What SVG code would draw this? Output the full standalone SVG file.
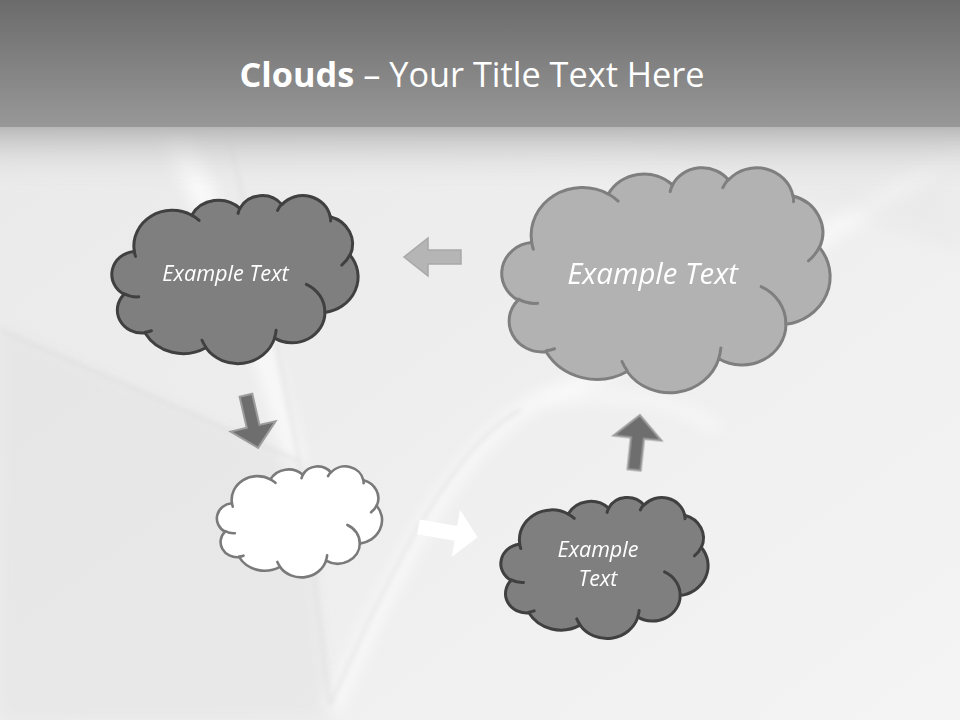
<svg xmlns="http://www.w3.org/2000/svg" xmlns:xlink="http://www.w3.org/1999/xlink" width="960" height="720" viewBox="0 0 960 720">
  <style>
    .lbl { font-family: "Open Sans", "Noto Sans", "DejaVu Sans", sans-serif; font-style: italic; fill: #ffffff; text-anchor: middle; }
    .title { font-family: "Open Sans", "Noto Sans", "DejaVu Sans", sans-serif; fill: #ffffff; text-anchor: middle; font-size: 34.3px; }
    .dark { fill: #7f7f7f; stroke: #404040; stroke-width: 3; }
    .mid { fill: #b2b2b2; stroke: #7f7f7f; stroke-width: 3; }
    .white { fill: #ffffff; stroke: #7a7a7a; stroke-width: 2.6; }
    .cl { vector-effect: non-scaling-stroke; stroke-linejoin: round; stroke-linecap: round; }
    .arrDark { fill: #6e6e6e; stroke: #9c9c9c; stroke-width: 2; }
    .arrLight { fill: #b5b5b5; stroke: #a8a8a8; stroke-width: 1.5; }
    .arrWhite { fill: #ffffff; stroke: none; }
  </style>
  <defs>
    <linearGradient id="hdr" x1="0" y1="0" x2="0" y2="1">
      <stop offset="0" stop-color="#6b6b6b"/>
      <stop offset="1" stop-color="#989898"/>
    </linearGradient>
    <linearGradient id="shade" x1="0" y1="0" x2="0" y2="1">
      <stop offset="0" stop-color="#b8b8b8"/>
      <stop offset="1" stop-color="#ebebeb" stop-opacity="0"/>
    </linearGradient>
    <linearGradient id="bg" x1="0" y1="0" x2="1" y2="1">
      <stop offset="0" stop-color="#e9e9e9"/>
      <stop offset="0.5" stop-color="#eeeeee"/>
      <stop offset="1" stop-color="#f4f4f4"/>
    </linearGradient>
    <filter id="blur" x="-20%" y="-20%" width="140%" height="140%">
      <feGaussianBlur stdDeviation="8"/>
    </filter>
    <filter id="blur2" x="-20%" y="-20%" width="140%" height="140%">
      <feGaussianBlur stdDeviation="2.5"/>
    </filter>
    <g id="cloud">
      <path class="cl" d="M 39 143.7 A 67.53 91.9 0 0 1 140.05 52.02 A 53.33 72.67 0 0 1 224.56 34.32 A 43.65 59.45 0 0 1 298.33 24.8 A 48.57 65.95 0 0 1 383.18 55.76 A 53.33 72.73 0 0 1 418.18 154.59 A 67.75 92.2 0 0 1 374.03 302.01 A 57.85 78.67 0 0 1 285.56 368.12 A 67.52 92.15 0 0 1 164.81 392.67 A 77.2 105.43 0 0 1 58.04 354.72 A 43.6 59.18 0 0 1 21.12 255.5 A 43.45 59.45 0 0 1 38.63 145.07 Z"/>
      <path class="cl" fill="none" d="M 46.93 261.77 A 43.45 59.45 0 0 1 21.59 253.79 M 69.28 348.99 A 43.6 59.18 0 0 1 58.2 352.8 M 164.78 390.9 A 67.52 92.15 0 0 1 158.09 373.46 M 288.27 347.51 A 67.52 92.15 0 0 1 285.61 366.59 M 341.29 229.54 A 57.85 78.67 0 0 1 373.81 300.9 M 417.98 153.54 A 53.33 72.73 0 0 1 403.5 180.3 M 383.24 54.26 A 48.57 65.95 0 0 1 384 66.9 M 290.78 39.52 A 48.57 65.95 0 0 1 298.2 23.4 M 221.41 47.2 A 43.65 59.45 0 0 1 225.05 33.18 M 140 51.92 A 67.53 91.9 0 0 1 153 65.4 M 41.27 157.89 A 67.53 91.9 0 0 1 39 143.71"/>
    </g>
  </defs>

  <!-- background -->
  <rect x="0" y="0" width="960" height="720" fill="url(#bg)"/>
  <g filter="url(#blur)">
    <polygon points="0,330 300,462 332,720 0,720" fill="#dddddd" opacity="0.35"/>
    <polygon points="160,128 190,128 268,330 305,465 290,470 245,330" fill="#ffffff" opacity="0.7"/>
    <path d="M 332 710 C 400 560 460 440 540 400 C 660 350 800 250 960 150" fill="none" stroke="#ffffff" stroke-width="16" opacity="0.6"/>
    <path d="M 540 400 C 620 390 680 400 720 430" fill="none" stroke="#ffffff" stroke-width="12" opacity="0.5"/>
    <polygon points="600,128 960,128 960,250" fill="#e4e4e4" opacity="0.4"/>
  </g>
  <g filter="url(#blur2)" fill="none" stroke="#dadada" stroke-width="2" opacity="0.8">
    <path d="M 228 135 L 268 300 L 300 465 L 330 705"/>
    <path d="M 330 705 C 395 560 455 445 520 410"/>
    <path d="M 0 330 L 300 462"/>
  </g>

  <!-- header band -->
  <rect x="0" y="127" width="960" height="60" fill="url(#shade)"/>
  <rect x="0" y="0" width="960" height="127" fill="url(#hdr)"/>
  <text class="title" x="472" y="87"><tspan font-weight="bold">Clouds</tspan> – Your Title Text Here</text>

  <!-- connectors -->
  <g id="connectors">
    <polygon class="arrLight" points="461,250 428,250 428,238 404,257 428,276 428,264 461,264"/>
    <polygon class="arrDark" transform="translate(252,421.5) rotate(77)" points="-27,-6.5 5,-6.5 5,-23 27,0 5,23 5,6.5 -27,6.5"/>
    <polygon class="arrWhite" transform="translate(448,532) rotate(10)" points="-30,-7.5 8,-7.5 8,-24 30,0 8,24 8,7.5 -30,7.5"/>
    <polygon class="arrDark" transform="translate(637,442.5) rotate(-84)" points="-27.5,-6.5 4.5,-6.5 4.5,-24 27.5,0 4.5,24 4.5,6.5 -27.5,6.5"/>
  </g>

  <!-- nodes -->
  <g id="cloud-top-left">
    <use href="#cloud" xlink:href="#cloud" class="dark" transform="translate(112,195) scale(0.5694,0.3889)"/>
    <text class="lbl" x="225.5" y="281" font-size="21.7">Example Text</text>
  </g>
  <g id="cloud-top-right">
    <use href="#cloud" xlink:href="#cloud" class="mid" transform="translate(502,167) scale(0.7593,0.5208)"/>
    <text class="lbl" x="652.5" y="284" font-size="29.3">Example Text</text>
  </g>
  <g id="cloud-small">
    <use href="#cloud" xlink:href="#cloud" class="white" transform="translate(217,466) scale(0.3819,0.2569)"/>
  </g>
  <g id="cloud-bottom">
    <use href="#cloud" xlink:href="#cloud" class="dark" transform="translate(501,497) scale(0.4792,0.3264)"/>
    <text class="lbl" x="598" y="557" font-size="21.5">Example</text>
    <text class="lbl" x="598" y="586" font-size="21.5">Text</text>
  </g>
</svg>
